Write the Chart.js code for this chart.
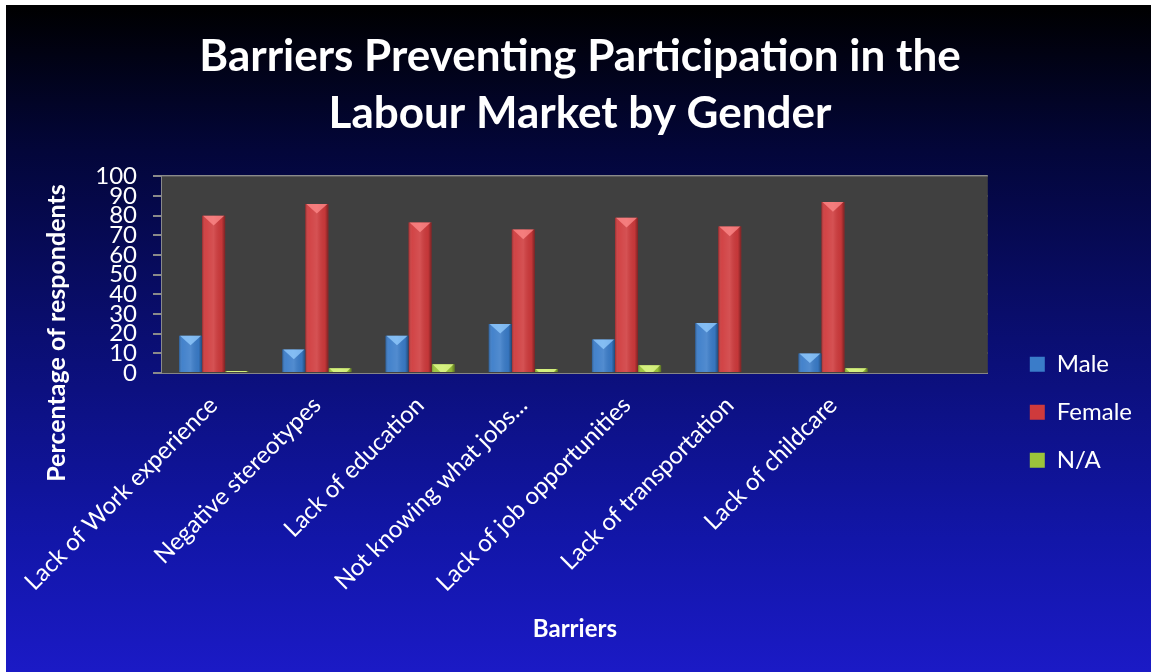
<!DOCTYPE html>
<html>
<head>
<meta charset="utf-8">
<script src="https://cdn.jsdelivr.net/npm/chart.js@4.4.1/dist/chart.umd.min.js"></script>
<style>
  html, body { margin:0; padding:0; background:#ffffff; }
  #wrap { width:1151px; height:672px; }
</style>
</head>
<body>
<div id="wrap"><canvas id="chart" width="1151" height="672"></canvas></div>
<script>
const barriers = [
    "Lack of Work experience",
    "Negative stereotypes",
    "Lack of education",
    "Not knowing what jobs...",
    "Lack of job opportunities",
    "Lack of transportation",
    "Lack of childcare",
    ""
];
const male   = [19, 12, 19, 25, 17, 25.5, 10, null];
const female = [80, 86, 76.5, 73, 79, 74.5, 87, null];
const na     = [1, 2.5, 4.5, 2, 4, 0, 2.5, null];
const yTicks = [0, 10, 20, 30, 40, 50, 60, 70, 80, 90, 100];

const FONT = "Lato, 'Open Sans', sans-serif";

// page background: black at top fading to blue
const backdrop = {
    id: "backdrop",
    beforeDraw(chart) {
        const c = chart.ctx;
        c.save();
        c.fillStyle = "#ffffff";
        c.fillRect(0, 0, chart.width, chart.height);
        const g = c.createLinearGradient(0, 5, 0, chart.height);
        g.addColorStop(0, "#000000");
        g.addColorStop(0.22, "#03063a");
        g.addColorStop(0.5, "#0a0e72");
        g.addColorStop(0.8, "#1216a8");
        g.addColorStop(1, "#1b1ac6");
        c.fillStyle = g;
        c.fillRect(6, 5, chart.width - 6, chart.height - 5);
        c.restore();
    },
    beforeDatasetsDraw(chart) {
        const a = chart.chartArea;
        const c = chart.ctx;
        c.save();
        c.fillStyle = "#404040";
        c.fillRect(a.left, a.top, a.right - a.left, a.bottom - a.top);
        c.restore();
    }
};

// bevel look on each bar: darker edges, light triangle on top
const bevel = {
    id: "bevel",
    afterDatasetsDraw(chart) {
        const c = chart.ctx;
        chart.data.datasets.forEach((ds, i) => {
            const meta = chart.getDatasetMeta(i);
            meta.data.forEach(bar => {
                if (bar.y == null || isNaN(bar.y)) return;
                const w = bar.width;
                const l = bar.x - w / 2;
                const top = bar.y;
                const h = bar.base - bar.y;
                if (h <= 0) return;
                c.save();
                const g = c.createLinearGradient(l, 0, l + w, 0);
                g.addColorStop(0, "rgba(0,0,0,0.25)");
                g.addColorStop(0.15, "rgba(255,255,255,0.05)");
                g.addColorStop(0.5, "rgba(255,255,255,0.12)");
                g.addColorStop(0.85, "rgba(0,0,0,0.05)");
                g.addColorStop(1, "rgba(0,0,0,0.4)");
                c.fillStyle = g;
                c.fillRect(l, top, w, h);
                const th = Math.min(h, w * 0.42);
                c.beginPath();
                c.moveTo(l + 1, top);
                c.lineTo(l + w - 1, top);
                if (th < w * 0.42) {
                    c.lineTo(l + w - 1 - th, top + th);
                    c.lineTo(l + 1 + th, top + th);
                } else {
                    c.lineTo(bar.x, top + th);
                }
                c.closePath();
                c.fillStyle = ds.topColor;
                c.fill();
                c.restore();
            });
        });
    }
};

// rotated y axis title, drawn beside the tick labels
const yTitle = {
    id: "yTitle",
    afterDraw(chart) {
        const a = chart.chartArea;
        const c = chart.ctx;
        c.save();
        c.translate(a.left - 105, a.bottom - 40);
        c.rotate(-Math.PI / 2);
        c.fillStyle = "#ffffff";
        c.font = "bold 25px " + FONT;
        c.textAlign = "center";
        c.textBaseline = "middle";
        c.fillText("Percentage of respondents", 0, 0);
        c.restore();
    }
};

const ctx = document.getElementById("chart");

const chart = new Chart(ctx, {
    type: "bar",
    data: {
        labels: barriers,
        datasets: [
        {
            label: "Male",
            data: male,
            backgroundColor: "#3a7cc9",
            topColor: "rgba(150,205,255,0.75)"
        },
        {
            label: "Female",
            data: female,
            backgroundColor: "#cf3a3c",
            topColor: "rgba(255,140,140,0.75)"
        },
        {
            label: "N/A",
            data: na,
            backgroundColor: "#9cc43a",
            topColor: "rgba(225,250,140,0.8)"
        }]
    },
    plugins: [backdrop, bevel, yTitle],
    options: {
        responsive: false,
        animation: false,
        devicePixelRatio: 1,
        datasets: {
            bar: {
                categoryPercentage: 0.67,
                barPercentage: 1.0,
                borderWidth: 0
            }
        },
        layout: {
            padding: { left: 18, right: 9, top: 8, bottom: 28 }
        },
        plugins: {
            title: {
                display: true,
                text: ["Barriers Preventing Participation in the", "Labour Market by Gender"],
                color: "#ffffff",
                font: { family: FONT, size: 44, weight: "bold", lineHeight: 1.3 },
                padding: { top: 20, bottom: 34 }
            },
            legend: {
                position: "right",
                title: {
                    display: true,
                    text: " ",
                    color: "rgba(0,0,0,0)",
                    font: { family: FONT, size: 12 },
                    padding: { top: 79, bottom: 79 }
                },
                labels: {
                    color: "#ffffff",
                    font: { family: FONT, size: 24 },
                    boxWidth: 15,
                    boxHeight: 15,
                    padding: 24
                }
            },
            tooltip: { enabled: false }
        },
        scales: {
            x: {
                grid: { display: false, drawTicks: false },
                border: { color: "#8a8a8a", width: 2 },
                ticks: {
                    color: "#ffffff",
                    font: { family: FONT, size: 24 },
                    maxRotation: 45,
                    minRotation: 45,
                    autoSkip: false,
                    padding: 18
                },
                title: {
                    display: true,
                    text: "Barriers",
                    color: "#ffffff",
                    font: { family: FONT, size: 24, weight: "bold" },
                    padding: { top: 0, bottom: 0 }
                }
            },
            y: {
                min: 0,
                max: 100,
                afterBuildTicks(axis) {
                    axis.ticks = yTicks.map(v => ({ value: v }));
                },
                afterFit(axis) {
                    axis.width = 144;
                },
                grid: { color: "#8a8a8a", lineWidth: 2, tickLength: 9, tickColor: "#8a8a8a" },
                border: { color: "#8a8a8a", width: 2 },
                ticks: {
                    color: "#ffffff",
                    font: { family: FONT, size: 24, lineHeight: 1 },
                    padding: 16,
                    autoSkip: false
                }
            },
            gap: {
                type: "linear",
                position: "right",
                display: true,
                grid: { display: false, drawTicks: false },
                border: { display: false },
                ticks: { display: false },
                afterFit(axis) {
                    axis.width = 18;
                }
            }
        }
    }
});
</script>
</body>
</html>
